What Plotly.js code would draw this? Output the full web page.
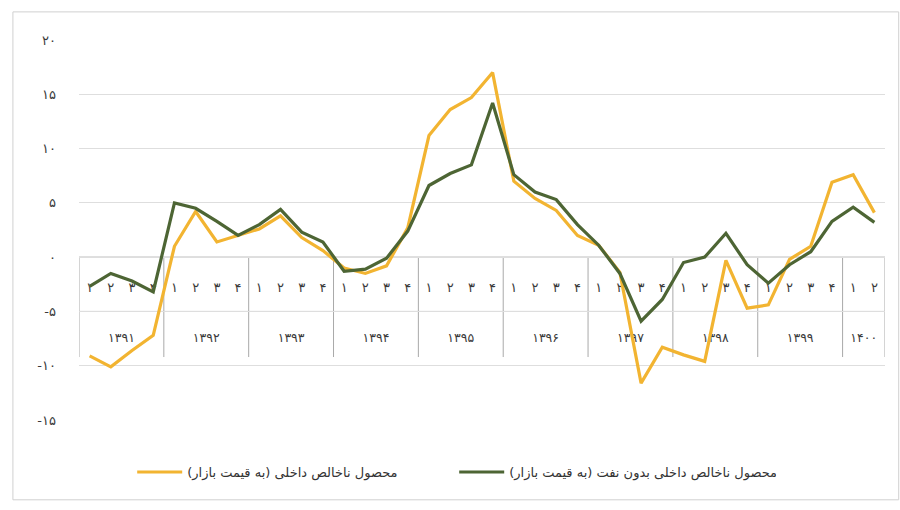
<!DOCTYPE html>
<html>
<head>
<meta charset="utf-8">
<script src="https://cdn.plot.ly/plotly-3.0.1.min.js"></script>
<style>html,body{margin:0;padding:0;background:#fff;}#chart{width:900px;height:510px;}</style>
</head>
<body>
<div id="chart"></div>
<script>
// ---- data ----
const quarterNames = ['۱', '۲', '۳', '۴'];
const years = ['۱۳۹۱', '۱۳۹۲', '۱۳۹۳', '۱۳۹۴', '۱۳۹۵', '۱۳۹۶', '۱۳۹۷', '۱۳۹۸', '۱۳۹۹', '۱۴۰۰'];
const quartersPerYear = [4, 4, 4, 4, 4, 4, 4, 4, 4, 2];

const gdpMarket = [-9.1, -10.1, -8.6, -7.2, 1.0, 4.2, 1.4, 2.0, 2.6, 3.8,
                   1.8, 0.6, -1.0, -1.5, -0.8, 2.7, 11.2, 13.6, 14.7, 17.0,
                   7.0, 5.4, 4.3, 2.0, 1.1, -1.4, -11.6, -8.3, -9.0, -9.6,
                   -0.3, -4.7, -4.4, -0.2, 1.0, 6.9, 7.6, 4.1];
const gdpNonOil = [-2.7, -1.5, -2.2, -3.2, 5.0, 4.5, 3.3, 2.0, 3.0, 4.4,
                   2.3, 1.4, -1.3, -1.1, -0.1, 2.4, 6.6, 7.7, 8.5, 14.2,
                   7.6, 6.0, 5.3, 3.0, 1.1, -1.5, -5.9, -3.9, -0.5, 0.0,
                   2.2, -0.7, -2.4, -0.7, 0.5, 3.3, 4.6, 3.2];

const seriesNames = ['محصول ناخالص داخلی (به قیمت بازار)', 'محصول ناخالص داخلی بدون نفت (به قیمت بازار)'];
const yTickVals = [-15, -10, -5, 0, 5, 10, 15, 20];
const yTickText = ['-۱۵', '-۱۰', '-۵', '۰', '۵', '۱۰', '۱۵', '۲۰'];

// ---- derived positions ----
const xIdx = [], qLabels = [], yearCenters = [], yearBounds = [-0.5];
let k = 0;
quartersPerYear.forEach((n, yi) => {
  const start = k;
  for (let q = 0; q < n; q++) { xIdx.push(k); qLabels.push(quarterNames[q]); k++; }
  yearCenters.push((start + k - 1) / 2);
  yearBounds.push(k - 0.5);
});
const total = k;

const tableColor = '#a9a9a9';
const qRowY = -2.9, yearRowY = -7.5;
const font = 'DejaVu Sans, sans-serif';

const traces = [
  { x: xIdx, y: xIdx.map(() => qRowY), text: qLabels, mode: 'text', type: 'scatter',
    textfont: { family: font, size: 13, color: '#3a3a3a' }, showlegend: false, hoverinfo: 'skip' },
  { x: yearCenters, y: yearCenters.map(() => yearRowY), text: years, mode: 'text', type: 'scatter',
    textfont: { family: font, size: 12.5, color: '#3a3a3a' }, showlegend: false, hoverinfo: 'skip' },
  { x: xIdx, y: gdpMarket, name: seriesNames[0], mode: 'lines', type: 'scatter',
    line: { color: '#F2B431', width: 3.2 } },
  { x: xIdx, y: gdpNonOil, name: seriesNames[1], mode: 'lines', type: 'scatter',
    line: { color: '#4D6534', width: 3.2 } }
];

const shapes = [
  { type: 'rect', xref: 'paper', yref: 'paper', x0: -0.082, x1: 1.017, y0: -0.21, y1: 1.074,
    line: { color: '#d0d0d0', width: 1 }, layer: 'below' },
  { type: 'line', xref: 'x', yref: 'y', x0: -0.5, x1: total - 0.5, y0: 0, y1: 0,
    line: { color: tableColor, width: 1 }, layer: 'below' },
  { type: 'line', xref: 'x', yref: 'y', x0: -0.5, x1: total - 0.5, y0: -5, y1: -5,
    line: { color: tableColor, width: 1 }, layer: 'below' }
];
yearBounds.forEach(b => shapes.push({ type: 'line', xref: 'x', yref: 'y', x0: b, x1: b, y0: 0, y1: -9.2,
  line: { color: tableColor, width: 1 }, layer: 'below' }));

const layout = {
  width: 900, height: 510,
  margin: { l: 79, r: 15, t: 40, b: 90 },
  paper_bgcolor: '#fff', plot_bgcolor: '#fff',
  showlegend: true,
  legend: { orientation: 'h', x: 0.066, y: -0.137, xanchor: 'left', yanchor: 'middle',
    font: { family: font, size: 13, color: '#333' }, entrywidth: 262, entrywidthmode: 'pixels',
    itemwidth: 45 },
  xaxis: { range: [-0.5, total - 0.5], showgrid: false, zeroline: false, showticklabels: false,
    showline: false, ticks: '' },
  yaxis: { range: [-15, 20], tickvals: yTickVals, ticktext: yTickText, showgrid: true,
    gridcolor: '#dedede', gridwidth: 1, zeroline: false, showline: false, ticks: '',
    ticklabelstandoff: 22, tickfont: { family: font, size: 13, color: '#3a3a3a' } },
  shapes: shapes
};

Plotly.newPlot('chart', traces, layout, { staticPlot: true, displayModeBar: false });
</script>
</body>
</html>
